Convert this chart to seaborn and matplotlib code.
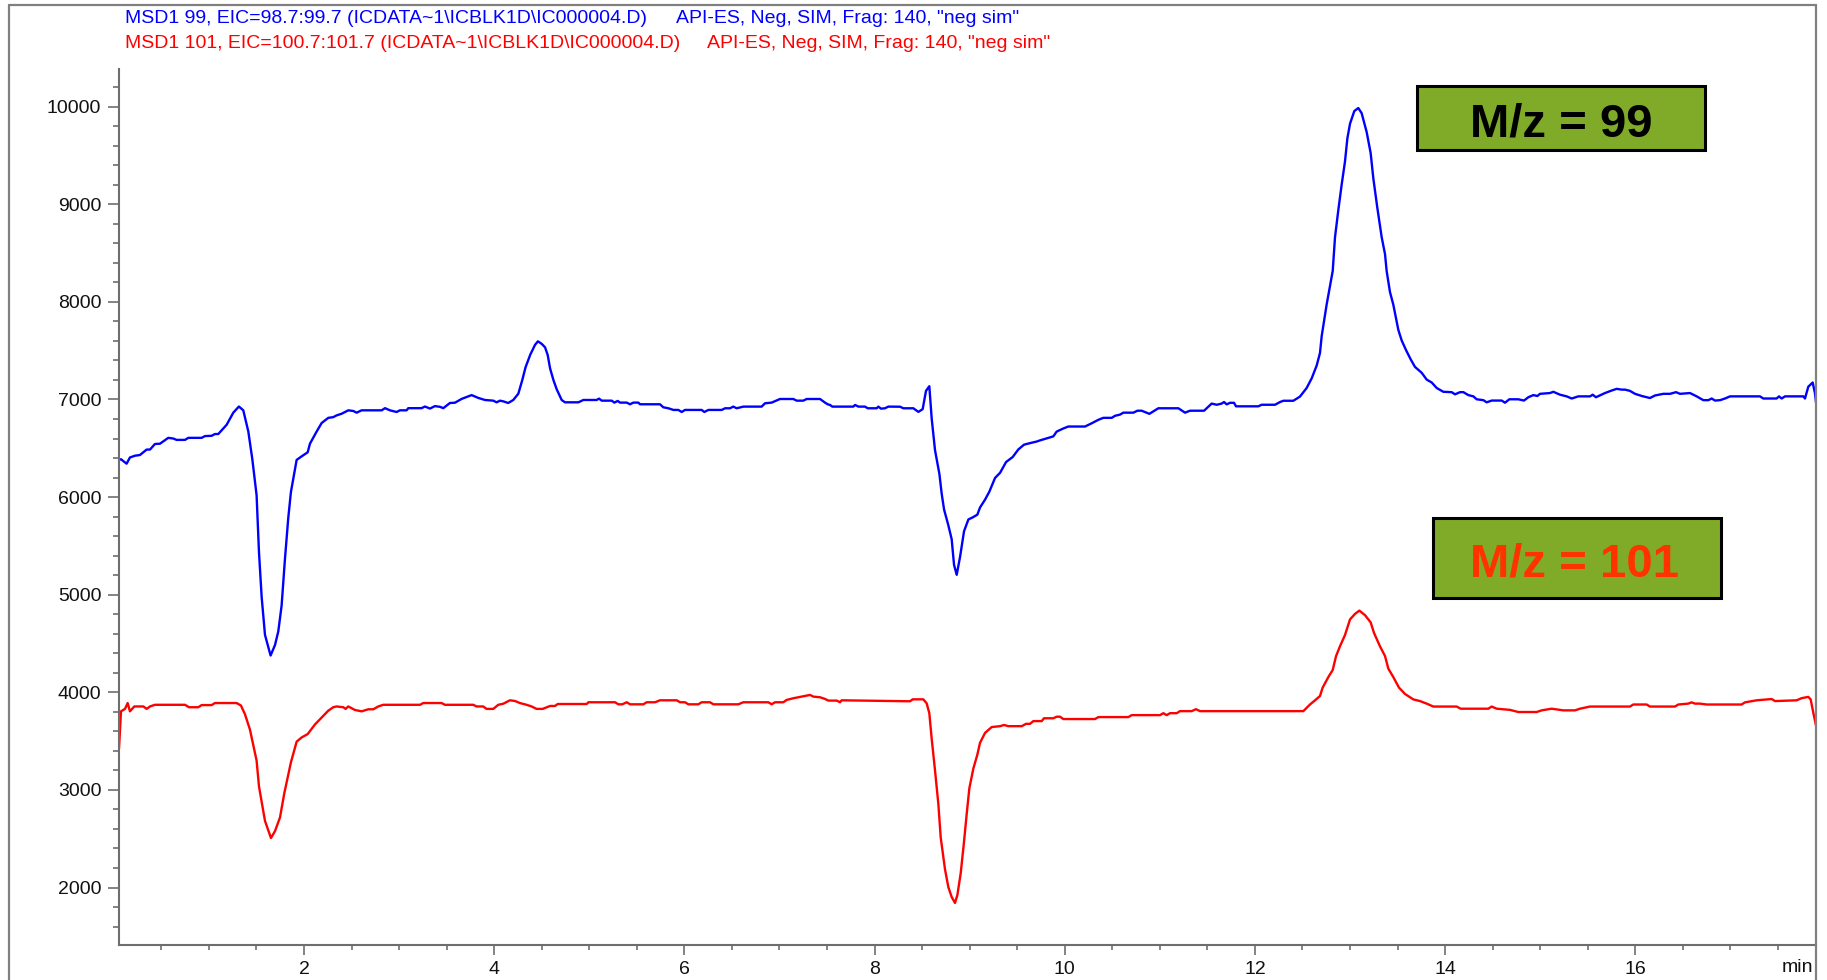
import matplotlib
matplotlib.use("Agg")
import matplotlib.pyplot as plt
from matplotlib.patches import Rectangle
from matplotlib.lines import Line2D
from matplotlib.ticker import MultipleLocator
import seaborn as sns

# --- Extracted ion chromatogram, m/z 99 (time in min, abundance) ---
msd99_points = [
    (0.055, 6381), (0.076, 6388), (0.135, 6342), (0.170, 6406), (0.223, 6424), (0.275, 6431), (0.346, 6487), (0.381, 6487), (0.433, 6544), (0.486, 6547),
    (0.573, 6607), (0.626, 6600), (0.661, 6586), (0.749, 6586), (0.784, 6607), (0.924, 6607), (0.959, 6625), (1.029, 6628), (1.064, 6646), (1.099, 6646),
    (1.187, 6741), (1.257, 6865), (1.316, 6928), (1.362, 6889), (1.415, 6671), (1.457, 6388), (1.502, 6018), (1.527, 5436), (1.555, 4977), (1.590, 4589),
    (1.649, 4377), (1.695, 4483), (1.730, 4624), (1.765, 4889), (1.800, 5365), (1.835, 5788), (1.863, 6053), (1.923, 6381), (1.975, 6417), (2.039, 6459),
    (2.063, 6547), (2.133, 6671), (2.186, 6759), (2.256, 6812), (2.308, 6819), (2.343, 6837), (2.396, 6854), (2.466, 6889), (2.519, 6882), (2.554, 6865),
    (2.606, 6889), (2.817, 6889), (2.852, 6911), (2.904, 6889), (2.974, 6872), (3.009, 6889), (3.079, 6889), (3.097, 6911), (3.237, 6911), (3.272, 6928),
    (3.325, 6907), (3.377, 6932), (3.430, 6925), (3.465, 6911), (3.535, 6964), (3.588, 6967), (3.658, 7006), (3.763, 7045), (3.833, 7016), (3.903, 6995),
    (3.991, 6988), (4.026, 6971), (4.061, 6988), (4.096, 6981), (4.148, 6964), (4.201, 6995), (4.254, 7059), (4.296, 7200), (4.330, 7330), (4.380, 7460),
    (4.430, 7560), (4.460, 7596), (4.500, 7570), (4.535, 7535), (4.563, 7456), (4.588, 7319), (4.623, 7200), (4.658, 7104), (4.710, 6995), (4.745, 6971),
    (4.886, 6971), (4.938, 6995), (5.078, 6995), (5.103, 7009), (5.131, 6988), (5.236, 6988), (5.264, 6968), (5.299, 6985), (5.324, 6968), (5.394, 6968),
    (5.429, 6951), (5.464, 6968), (5.516, 6968), (5.534, 6951), (5.744, 6951), (5.779, 6920), (5.832, 6910), (5.885, 6893), (5.937, 6893), (5.972, 6872),
    (6.007, 6893), (6.182, 6893), (6.210, 6872), (6.253, 6893), (6.393, 6893), (6.428, 6910), (6.480, 6910), (6.515, 6927), (6.550, 6910), (6.621, 6927),
    (6.813, 6927), (6.848, 6961), (6.918, 6968), (7.006, 7005), (7.146, 7005), (7.181, 6988), (7.251, 6988), (7.286, 7005), (7.427, 7005), (7.479, 6968),
    (7.507, 6951), (7.532, 6944), (7.556, 6927), (7.777, 6927), (7.795, 6944), (7.830, 6927), (7.900, 6927), (7.928, 6910), (8.022, 6910), (8.040, 6927),
    (8.068, 6906), (8.110, 6910), (8.145, 6927),
    (8.268, 6926), (8.303, 6910), (8.408, 6910), (8.461, 6873), (8.506, 6901), (8.541, 7088), (8.576, 7136), (8.601, 6804), (8.636, 6480), (8.682, 6237),
    (8.706, 6035), (8.731, 5873), (8.776, 5711), (8.811, 5569), (8.836, 5305), (8.864, 5204), (8.899, 5386), (8.941, 5650), (8.987, 5771), (9.032, 5792),
    (9.081, 5820), (9.109, 5893), (9.162, 5974), (9.207, 6055), (9.267, 6196), (9.320, 6249), (9.383, 6359), (9.453, 6411), (9.512, 6488), (9.572, 6537),
    (9.635, 6553), (9.705, 6569), (9.740, 6581), (9.810, 6602), (9.880, 6622), (9.915, 6671), (9.985, 6703), (10.038, 6723), (10.213, 6723), (10.283, 6756),
    (10.354, 6792), (10.406, 6812), (10.494, 6812), (10.529, 6833), (10.581, 6845), (10.616, 6865), (10.722, 6865), (10.764, 6885), (10.809, 6885), (10.890, 6853),
    (10.984, 6910), (11.195, 6910), (11.265, 6865), (11.317, 6885), (11.465, 6885), (11.545, 6958), (11.598, 6946), (11.650, 6958), (11.675, 6974), (11.703, 6950),
    (11.738, 6966), (11.780, 6966), (11.801, 6930), (12.036, 6930), (12.071, 6946), (12.211, 6946), (12.264, 6974), (12.299, 6987), (12.404, 6987),
    (12.474, 7030), (12.544, 7118), (12.597, 7217), (12.649, 7347), (12.684, 7476), (12.702, 7649), (12.754, 7972), (12.818, 8317), (12.842, 8662), (12.877, 8942),
    (12.912, 9201), (12.947, 9438), (12.972, 9675), (13.000, 9826), (13.045, 9955), (13.087, 9986), (13.122, 9934), (13.175, 9740), (13.217, 9524), (13.245, 9266),
    (13.287, 8964), (13.333, 8662), (13.368, 8489), (13.385, 8317), (13.420, 8101), (13.455, 7972), (13.508, 7713), (13.543, 7605), (13.589, 7506), (13.638, 7411),
    (13.683, 7334), (13.754, 7273), (13.806, 7204), (13.859, 7174), (13.911, 7118), (13.981, 7079), (14.069, 7075), (14.104, 7053), (14.157, 7075), (14.192, 7075),
    (14.244, 7045), (14.297, 7032), (14.332, 7002), (14.402, 6993), (14.437, 6971), (14.490, 6989), (14.595, 6989), (14.630, 6967), (14.675, 7002), (14.770, 7002),
    (14.829, 6989), (14.875, 7023), (14.928, 7045), (14.970, 7036), (14.998, 7058), (15.103, 7066), (15.138, 7079), (15.208, 7049), (15.278, 7032), (15.331, 7010),
    (15.401, 7032), (15.524, 7032), (15.552, 7049), (15.586, 7023), (15.681, 7066), (15.752, 7092), (15.804, 7109), (15.857, 7101), (15.892, 7101), (15.944, 7088),
    (15.997, 7058), (16.067, 7036), (16.154, 7015), (16.207, 7041), (16.295, 7058), (16.365, 7058), (16.428, 7075), (16.470, 7058), (16.575, 7066), (16.645, 7032),
    (16.715, 6993), (16.768, 6993), (16.803, 7010), (16.838, 6989), (16.891, 6993), (16.943, 7010), (16.996, 7032), (17.311, 7032), (17.346, 7010), (17.486, 7010),
    (17.511, 7032), (17.539, 7010), (17.574, 7032), (17.767, 7032), (17.784, 7010), (17.819, 7131), (17.865, 7174), (17.889, 7066), (17.907, 6915),
]

# --- Extracted ion chromatogram, m/z 101 (time in min, abundance) ---
msd101_points = [
    (0.055, 3424), (0.076, 3805), (0.118, 3830), (0.146, 3890), (0.170, 3805), (0.216, 3855), (0.311, 3855), (0.346, 3830), (0.381, 3855), (0.433, 3872),
    (0.749, 3872), (0.791, 3847), (0.889, 3847), (0.924, 3869), (1.029, 3869), (1.064, 3890), (1.292, 3890), (1.337, 3865), (1.379, 3777), (1.432, 3618),
    (1.502, 3300), (1.527, 3036), (1.590, 2683), (1.653, 2507), (1.695, 2577), (1.748, 2718), (1.793, 2965), (1.863, 3283), (1.923, 3494), (1.975, 3537),
    (2.039, 3572), (2.116, 3671), (2.186, 3742), (2.256, 3812), (2.308, 3847), (2.343, 3855), (2.413, 3847), (2.438, 3830), (2.466, 3855), (2.536, 3819),
    (2.606, 3805), (2.676, 3826), (2.729, 3826), (2.781, 3855), (2.834, 3872), (3.220, 3872), (3.255, 3890), (3.447, 3890), (3.482, 3872), (3.780, 3872),
    (3.815, 3855), (3.885, 3855), (3.920, 3830), (3.991, 3830), (4.043, 3872), (4.096, 3883), (4.166, 3918), (4.219, 3911), (4.271, 3890), (4.341, 3872),
    (4.394, 3855), (4.446, 3830), (4.510, 3830),
    (4.588, 3860), (4.640, 3860), (4.668, 3880), (4.973, 3880), (4.991, 3898), (5.271, 3898), (5.306, 3877), (5.348, 3877), (5.394, 3898), (5.429, 3877),
    (5.569, 3877), (5.604, 3898), (5.692, 3898), (5.744, 3918), (5.920, 3918), (5.955, 3898), (6.007, 3898), (6.042, 3877), (6.147, 3877), (6.182, 3898),
    (6.270, 3898), (6.305, 3877), (6.568, 3877), (6.620, 3898), (6.883, 3898), (6.918, 3877), (6.953, 3898), (7.041, 3898), (7.076, 3922), (7.146, 3939),
    (7.234, 3956), (7.322, 3973), (7.356, 3956), (7.427, 3949), (7.479, 3932), (7.514, 3915), (7.602, 3915), (7.637, 3898), (7.654, 3918), (8.230, 3910),
    (8.373, 3908), (8.401, 3928), (8.513, 3928), (8.548, 3887), (8.576, 3786), (8.601, 3523), (8.636, 3199), (8.671, 2855), (8.696, 2510), (8.741, 2186),
    (8.776, 2004), (8.811, 1903), (8.846, 1842), (8.871, 1923), (8.906, 2146), (8.941, 2470), (8.969, 2753), (8.997, 3017), (9.039, 3219), (9.081, 3361),
    (9.109, 3482), (9.162, 3584), (9.232, 3644), (9.320, 3653), (9.362, 3665), (9.407, 3653), (9.548, 3653), (9.593, 3677), (9.635, 3677), (9.670, 3705),
    (9.758, 3705), (9.782, 3734), (9.880, 3734), (9.915, 3750), (9.950, 3750), (9.985, 3726), (10.318, 3726), (10.354, 3746), (10.669, 3746), (10.704, 3766),
    (11.002, 3766), (11.037, 3786), (11.072, 3766), (11.107, 3786), (11.177, 3786), (11.212, 3807), (11.335, 3807), (11.380, 3827), (11.422, 3807), (12.509, 3807),
    (12.544, 3841), (12.579, 3875), (12.632, 3918), (12.684, 3962), (12.712, 4048), (12.772, 4156), (12.818, 4229), (12.853, 4371), (12.894, 4471), (12.947, 4587),
    (13.000, 4747), (13.052, 4803), (13.098, 4837), (13.158, 4790), (13.217, 4716), (13.252, 4609), (13.315, 4471), (13.368, 4371), (13.403, 4242), (13.455, 4156),
    (13.515, 4048), (13.578, 3983), (13.666, 3927), (13.736, 3910), (13.806, 3884), (13.876, 3854), (14.121, 3854), (14.163, 3832), (14.454, 3832), (14.490, 3854),
    (14.542, 3832), (14.682, 3820), (14.770, 3798), (14.963, 3798), (15.015, 3815), (15.120, 3832), (15.243, 3815), (15.366, 3815), (15.418, 3832), (15.524, 3854),
    (15.944, 3854), (15.979, 3875), (16.119, 3875), (16.154, 3854), (16.417, 3854), (16.452, 3875), (16.557, 3884), (16.592, 3897), (16.627, 3884), (16.680, 3884),
    (16.750, 3875), (17.118, 3875), (17.153, 3897), (17.276, 3918), (17.434, 3931), (17.469, 3910), (17.697, 3918), (17.749, 3940), (17.819, 3953), (17.844, 3927),
    (17.872, 3789), (17.900, 3660),
]

t99, v99 = zip(*msd99_points)
t101, v101 = zip(*msd101_points)

header_99 = "MSD1 99, EIC=98.7:99.7 (ICDATA~1\\ICBLK1D\\IC000004.D)"
header_101 = "MSD1 101, EIC=100.7:101.7 (ICDATA~1\\ICBLK1D\\IC000004.D)"
method_text = "API-ES, Neg, SIM, Frag: 140, \"neg sim\""
label_99 = "M/z = 99"
label_101 = "M/z = 101"

sns.set_style("ticks")
plt.rcParams['font.family'] = ['Liberation Sans', 'DejaVu Sans']

W, H = 1827, 980
fig = plt.figure(figsize=(W / 100, H / 100), dpi=100)
fig.patch.set_facecolor("white")

ax_left, ax_right, ax_top, ax_bottom = 119, 1816, 69, 945
ax = fig.add_axes([ax_left / W, 1 - ax_bottom / H,
                   (ax_right - ax_left) / W, (ax_bottom - ax_top) / H])

sns.lineplot(x=list(t99), y=list(v99), ax=ax, color="#0000ff", linewidth=1.7,
             estimator=None, sort=False)
sns.lineplot(x=list(t101), y=list(v101), ax=ax, color="#ff0000", linewidth=1.7,
             estimator=None, sort=False)

ax.set_xlim(0.055, 17.90)
ax.set_ylim(1411, 10386)
ax.set_xlabel("")
ax.set_ylabel("")

ax.xaxis.set_major_locator(MultipleLocator(2))
ax.xaxis.set_minor_locator(MultipleLocator(0.5))
ax.yaxis.set_major_locator(MultipleLocator(1000))
ax.yaxis.set_minor_locator(MultipleLocator(200))

axis_grey = "#6e6e6e"
for side in ("top", "right"):
    ax.spines[side].set_visible(False)
for side in ("left", "bottom"):
    ax.spines[side].set_color(axis_grey)
    ax.spines[side].set_linewidth(1.5)

ax.tick_params(axis="both", which="both", direction="out", color=axis_grey,
               width=1.2, labelsize=14, labelcolor="#111111")
ax.tick_params(axis="y", which="major", length=7.7, pad=5.0)
ax.tick_params(axis="y", which="minor", length=4.0)
ax.tick_params(axis="x", which="major", length=7.2, pad=4.0)
ax.tick_params(axis="x", which="minor", length=3.6)

# time unit at the right end of the x axis
fig.text(1813 / W, 1 - 967 / H, "min", ha="right", va="center",
         fontsize=14, color="#111111")

# outer frame of the report panel
frame_grey = "#808080"
fig.add_artist(Line2D([9 / W, 9 / W], [0, 1 - 5 / H], transform=fig.transFigure,
                      color=frame_grey, linewidth=1.6))
fig.add_artist(Line2D([9 / W, 1816 / W], [1 - 5 / H, 1 - 5 / H],
                      transform=fig.transFigure, color=frame_grey, linewidth=1.6))
fig.add_artist(Line2D([1816 / W, 1816 / W], [0, 1 - 5 / H],
                      transform=fig.transFigure, color=frame_grey, linewidth=1.6))

# trace headers
fig.text(125 / W, 1 - 22.7 / H, header_99, color="#0000ff", fontsize=14,
         ha="left", va="baseline")
fig.text(676 / W, 1 - 22.7 / H, method_text, color="#0000ff", fontsize=14,
         ha="left", va="baseline")
fig.text(125 / W, 1 - 47.7 / H, header_101, color="#ff0000", fontsize=14,
         ha="left", va="baseline")
fig.text(707 / W, 1 - 47.7 / H, method_text, color="#ff0000", fontsize=14,
         ha="left", va="baseline")

# ion labels in green boxes
box_green = "#7fab28"
for (x0, y0, x1, y1), (tx, tb), text, colour in [
    ((1417, 86, 1705, 150), (1561, 136.7), label_99, "#000000"),
    ((1433, 518, 1721, 598), (1575, 576), label_101, "#ff3300"),
]:
    fig.add_artist(Rectangle((x0 / W, 1 - y1 / H), (x1 - x0) / W, (y1 - y0) / H,
                             transform=fig.transFigure, facecolor=box_green,
                             edgecolor="black", linewidth=2.2))
    fig.text(tx / W, 1 - tb / H, text, color=colour, fontsize=34,
             fontweight="bold", ha="center", va="baseline")

fig.savefig("out.png", dpi=100)
